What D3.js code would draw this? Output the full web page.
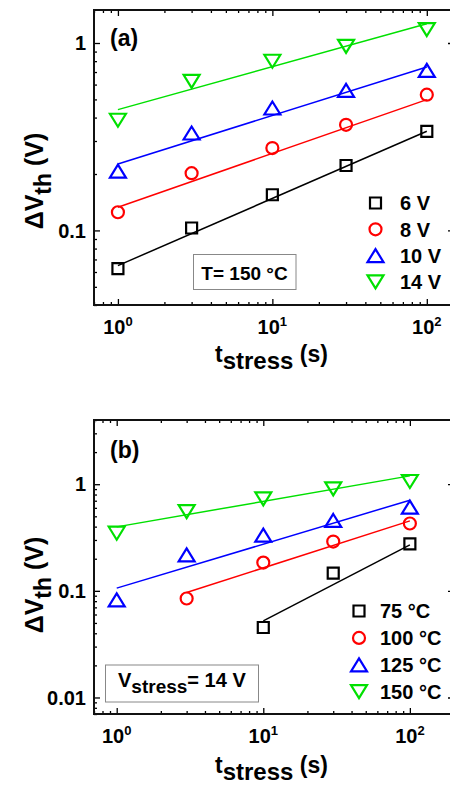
<!DOCTYPE html>
<html><head><meta charset="utf-8">
<script src="https://cdn.jsdelivr.net/npm/d3@7"></script>
<style>
body{margin:0;background:#fff}
text{font-family:"Liberation Sans",Arial,sans-serif;font-weight:bold;fill:#000}
</style>
</head><body>
<svg id="chart" width="450" height="787"></svg>
<script>
// ---------- DATA ----------
const stressTimes = [1, 3, 10, 30, 100];

// Panel (a): T = 150 °C, different stress voltages
const labelsA = ["6 V", "8 V", "10 V", "14 V"];
const dvA_6V  = [0.0625, 0.103, 0.155, 0.222, 0.338];
const dvA_8V  = [0.125, 0.202, 0.275, 0.366, 0.530];
const dvA_10V = [0.207, 0.331, 0.450, 0.559, 0.715];
const dvA_14V = [0.387, 0.624, 0.799, 0.960, 1.18];
const fitA_x  = [[1, 100], [1, 100], [1, 100], [1, 100]];
const fitA_y  = [[0.0649, 0.338], [0.133, 0.499], [0.226, 0.745], [0.441, 1.268]];

// Panel (b): Vstress = 14 V, different temperatures
const labelsB = ["75 °C", "100 °C", "125 °C", "150 °C"];
const timesB_75  = [10, 30, 100];
const timesB_100 = [3, 10, 30, 100];
const timesB_125 = [1, 3, 10, 30, 100];
const timesB_150 = [1, 3, 10, 30, 100];
const dvB_75  = [0.0453, 0.1465, 0.276];
const dvB_100 = [0.0848, 0.184, 0.290, 0.428];
const dvB_125 = [0.0824, 0.2175, 0.333, 0.457, 0.609];
const dvB_150 = [0.347, 0.554, 0.729, 0.904, 1.06];
const fitB_x  = [[10, 100], [3, 100], [1, 100], [1, 100]];
const fitB_y  = [[0.0523, 0.270], [0.0965, 0.453], [0.106, 0.708], [0.398, 1.197]];

const yTickLabelsA = [0.1, 1];
const yTickLabelsB = [0.01, 0.1, 1];
const xTickExps = [0, 1, 2];

// ---------- STYLE ----------
const colors = ["#000000", "#ff0000", "#0000ff", "#00e000"];
const shapes = ["square", "circle", "up", "down"];

function symbolPath(shape) {
  if (shape === "square") return "M-5.5,-5.5h11v11h-11z";
  if (shape === "circle") return "M6,0A6,6 0 1,1 -6,0A6,6 0 1,1 6,0Z";
  if (shape === "up") return "M0,-6.5L8,6.5L-8,6.5Z";
  return "M0,6.5L8,-6.5L-8,-6.5Z";
}

const svg = d3.select("#chart");

function drawPanel(cfg) {
  const x = d3.scaleLog().domain(cfg.xDomain).range([cfg.left, cfg.right]);
  const y = d3.scaleLog().domain(cfg.yDomain).range([cfg.bottom, cfg.top]);
  const g = svg.append("g");

  const xMajor = xTickExps.map(e => Math.pow(10, e));
  const xAll = x.ticks();
  const xMinor = xAll.filter(v => !xMajor.some(m => Math.abs(m - v) < 1e-9));
  const yAll = y.ticks();
  const yMajorVals = yAll.filter(v => Math.abs(Math.log10(v) - Math.round(Math.log10(v))) < 1e-9);
  const yMinor = yAll.filter(v => !yMajorVals.includes(v));

  const tickStyle = sel => { sel.select(".domain").remove(); sel.selectAll("line").attr("stroke", "#000").attr("stroke-width", 1.3); sel.selectAll("text").remove(); };

  g.append("g").attr("transform", `translate(0,${cfg.bottom})`)
    .call(d3.axisBottom(x).tickValues(xMajor).tickSize(-6)).call(tickStyle);
  g.append("g").attr("transform", `translate(0,${cfg.bottom})`)
    .call(d3.axisBottom(x).tickValues(xMinor).tickSize(-3)).call(tickStyle);
  g.append("g").attr("transform", `translate(0,${cfg.top})`)
    .call(d3.axisTop(x).tickValues(xMajor).tickSize(-6)).call(tickStyle);
  g.append("g").attr("transform", `translate(0,${cfg.top})`)
    .call(d3.axisTop(x).tickValues(xMinor).tickSize(-3)).call(tickStyle);
  g.append("g").attr("transform", `translate(${cfg.left},0)`)
    .call(d3.axisLeft(y).tickValues(yMajorVals).tickSize(-6)).call(tickStyle);
  g.append("g").attr("transform", `translate(${cfg.left},0)`)
    .call(d3.axisLeft(y).tickValues(yMinor).tickSize(-3)).call(tickStyle);
  g.append("g").attr("transform", `translate(${cfg.right},0)`)
    .call(d3.axisRight(y).tickValues(yMajorVals).tickSize(-6)).call(tickStyle);
  g.append("g").attr("transform", `translate(${cfg.right},0)`)
    .call(d3.axisRight(y).tickValues(yMinor).tickSize(-3)).call(tickStyle);

  g.append("rect").attr("x", cfg.left).attr("y", cfg.top)
    .attr("width", cfg.right - cfg.left).attr("height", cfg.bottom - cfg.top)
    .attr("fill", "none").attr("stroke", "#111").attr("stroke-width", 2);

  xTickExps.forEach(e => {
    const t = g.append("text").attr("x", x(Math.pow(10, e))).attr("y", cfg.bottom + 29)
      .attr("text-anchor", "middle").style("font-size", "20px");
    t.append("tspan").text("10");
    t.append("tspan").attr("dy", -8).style("font-size", "13px").text(String(e));
  });
  cfg.yLabels.forEach(v => {
    g.append("text").attr("x", cfg.left - 8).attr("y", y(v)).attr("dy", "0.36em")
      .attr("text-anchor", "end").style("font-size", "20px").text(String(v));
  });

  cfg.fitX.forEach((fx, i) => {
    const pts = fx.map((xv, j) => [x(xv), y(cfg.fitY[i][j])]);
    g.append("path").attr("d", d3.line()(pts)).attr("fill", "none")
      .attr("stroke", colors[i]).attr("stroke-width", 1.5);
  });
  cfg.series.forEach((s, i) => {
    g.selectAll(null).data(s.vals.map((v, j) => [s.times[j], v])).enter()
      .append("path").attr("d", symbolPath(shapes[i]))
      .attr("transform", d => `translate(${x(d[0])},${y(d[1])})`)
      .attr("fill", "none").attr("stroke", colors[i]).attr("stroke-width", 2.2);
  });

  cfg.legendLabels.forEach((lab, i) => {
    const ly = cfg.legendY + i * cfg.legendStep;
    g.append("path").attr("d", symbolPath(shapes[i]))
      .attr("transform", `translate(${cfg.legendMX},${ly})`)
      .attr("fill", "none").attr("stroke", colors[i]).attr("stroke-width", 2.2);
    g.append("text").attr("x", cfg.legendTX).attr("y", ly).attr("dy", "0.36em")
      .style("font-size", "20px").text(lab);
  });

  g.append("text").attr("x", cfg.left + 16).attr("y", cfg.letterY)
    .style("font-size", "23px").text(cfg.letter);

  const xt = g.append("text").attr("x", 215).attr("y", cfg.xTitleY).style("font-size", "23px");
  xt.append("tspan").text("t");
  xt.append("tspan").attr("dy", 7).style("font-size", "24px").text("stress");
  xt.append("tspan").attr("dy", -7).text(" (s)");

  const yt = g.append("text").attr("transform", `translate(43,${cfg.yTitleCY}) rotate(-90)`)
    .attr("text-anchor", "middle").style("font-size", "25px");
  yt.append("tspan").text("\u0394V");
  yt.append("tspan").attr("dy", 8).style("font-size", "23px").text("th");
  yt.append("tspan").attr("dy", -8).text(" (V)");

  return {x, y, g};
}

const pa = drawPanel({
  left: 94, right: 454, top: 10, bottom: 305,
  xDomain: [0.7, 150], yDomain: [0.04, 1.5],
  yLabels: yTickLabelsA,
  series: [
    {times: stressTimes, vals: dvA_6V},
    {times: stressTimes, vals: dvA_8V},
    {times: stressTimes, vals: dvA_10V},
    {times: stressTimes, vals: dvA_14V}],
  fitX: fitA_x, fitY: fitA_y,
  legendLabels: labelsA, legendY: 203, legendStep: 26.3, legendMX: 375.5, legendTX: 400,
  letter: "(a)", letterY: 46, xTitleY: 361.5, yTitleCY: 181
});
pa.g.append("rect").attr("x", 193.5).attr("y", 254.5).attr("width", 102.5).attr("height", 35)
  .attr("fill", "#fff").attr("stroke", "#888").attr("stroke-width", 1);
pa.g.append("text").attr("x", 244.5).attr("y", 280).attr("text-anchor", "middle")
  .style("font-size", "19px").text("T= 150 °C");

const pb = drawPanel({
  left: 94, right: 454, top: 420, bottom: 714,
  xDomain: [0.7, 200], yDomain: [0.007, 4],
  yLabels: yTickLabelsB,
  series: [
    {times: timesB_75, vals: dvB_75},
    {times: timesB_100, vals: dvB_100},
    {times: timesB_125, vals: dvB_125},
    {times: timesB_150, vals: dvB_150}],
  fitX: fitB_x, fitY: fitB_y,
  legendLabels: labelsB, legendY: 611, legendStep: 26.9, legendMX: 359, legendTX: 380,
  letter: "(b)", letterY: 458, xTitleY: 773, yTitleCY: 585
});
pb.g.append("rect").attr("x", 105.5).attr("y", 665).attr("width", 153).attr("height", 37)
  .attr("fill", "#fff").attr("stroke", "#888").attr("stroke-width", 1);
const bt = pb.g.append("text").attr("x", 118).attr("y", 687).style("font-size", "20px");
bt.append("tspan").text("V");
bt.append("tspan").attr("dy", 6).style("font-size", "19px").text("stress");
bt.append("tspan").attr("dy", -6).text("= 14 V");
</script>
</body></html>
